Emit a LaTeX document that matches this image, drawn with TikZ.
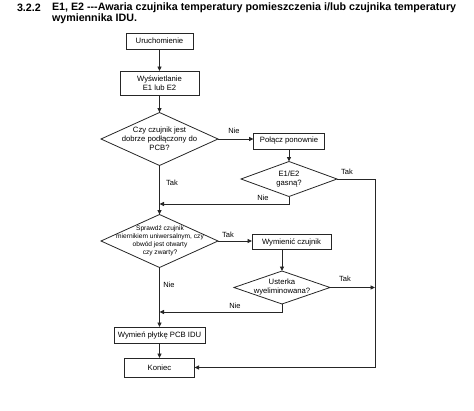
\documentclass[tikz,border=0pt]{standalone}
\usepackage{fontspec}
\setmainfont{Liberation Sans}
\usetikzlibrary{arrows.meta,shapes.geometric}
\begin{document}
\begin{tikzpicture}[x=1pt,y=-1pt,
  every node/.style={inner sep=0pt, outer sep=0pt},
  box/.style={draw=black!85, line width=0.8pt, rectangle, font=\fontsize{7.7}{9}\selectfont, align=center},
  dia/.style={draw=black!85, line width=0.8pt, diamond, inner sep=0pt},
  dtext/.style={font=\fontsize{7.7}{9}\selectfont, align=center},
  lbl/.style={font=\fontsize{7.5}{9}\selectfont},
  conn/.style={draw=black!85, line width=0.9pt},
  arr/.style={conn, -{Triangle[length=4.5pt,width=4pt]}}
]
\useasboundingbox (0,0) rectangle (474,410);
% title
\node[anchor=west, font=\fontsize{10.7}{12}\bfseries] (num) at (17,8) {3.2.2};
\node[anchor=north west, align=left, font=\fontsize{10.7}{11}\bfseries] (title) at (52,2.5)
  {E1, E2 -{}-{}-Awaria czujnika temperatury pomieszczenia i/lub czujnika temperatury\\wymiennika IDU.};
% nodes
\node[box, minimum width=67, minimum height=16] (start) at (159.5,41) {Uruchomienie};
\node[box, minimum width=79, minimum height=24] (disp) at (159.5,83) {Wyświetlanie\\E1 lub E2};
\node[dia, minimum width=117, minimum height=53] (d1) at (159.5,139) {};
\node[dtext] (d1t) at (159.5,139) {Czy czujnik jest\\dobrze podłączony do\\PCB?};
\node[box, minimum width=71, minimum height=16] (recon) at (289,141) {Połącz ponownie};
\node[dia, minimum width=96, minimum height=35] (d2) at (289,179) {};
\node[dtext] (d2t) at (289,179) {E1/E2\\gasną?};
\node[dia, minimum width=117, minimum height=53] (d3) at (159.5,241) {};
\node[dtext, font=\fontsize{6.6}{8}\selectfont] (d3t) at (160,241) {Sprawdź czujnik\\miernikiem uniwersalnym, czy\\obwód jest otwarty\\czy zwarty?};
\node[box, minimum width=79, minimum height=15] (repl) at (291.5,242) {Wymienić czujnik};
\node[dia, minimum width=96, minimum height=33] (d4) at (282,287.5) {};
\node[dtext] (d4t) at (282,287.5) {Usterka\\wyeliminowana?};
\node[box, minimum width=91, minimum height=16] (pcb) at (159.5,335) {Wymień płytkę PCB IDU};
\node[box, minimum width=70, minimum height=19] (end) at (159.5,367.5) {Koniec};
\coordinate (rtop) at (375,179);
\coordinate (rmid) at (375,287.5);
\coordinate (n2) at (289,204);
\coordinate (n4) at (282,312);
% connectors
\draw[arr] (start) -- (disp);
\draw[arr] (disp) -- (d1);
\draw[arr] (d1.east) -- (d1.east -| recon.west);
\draw[arr] (recon) -- (d2);
\draw[conn] (d2.east) -- (rtop) -- (rtop |- end.east);
\draw[arr] (rtop |- end.east) -- (end.east);
\draw[arr] (d2.south) -- (n2) -- (n2 -| d1.south);
\draw[arr] (d1.south) -- (d3.north);
\draw[arr] (d3.east) -- (d3.east -| repl.west);
\draw[arr] (d4.north |- repl.south) -- (d4.north);
\draw[arr] (d4.east) -- (rmid);
\draw[arr] (d4.south) -- (n4) -- (n4 -| d3.south);
\draw[arr] (d3.south) -- (pcb.north);
\draw[arr] (pcb) -- (end);
% labels
\node[lbl] (l1) at (234,131) {Nie};
\node[lbl] (l2) at (347,172) {Tak};
\node[lbl] (l3) at (263,197.5) {Nie};
\node[lbl] (l4) at (172,183) {Tak};
\node[lbl] (l5) at (228,235) {Tak};
\node[lbl] (l6) at (345,279) {Tak};
\node[lbl] (l7) at (235,306) {Nie};
\node[lbl] (l8) at (169,285) {Nie};
\end{tikzpicture}
\end{document}
